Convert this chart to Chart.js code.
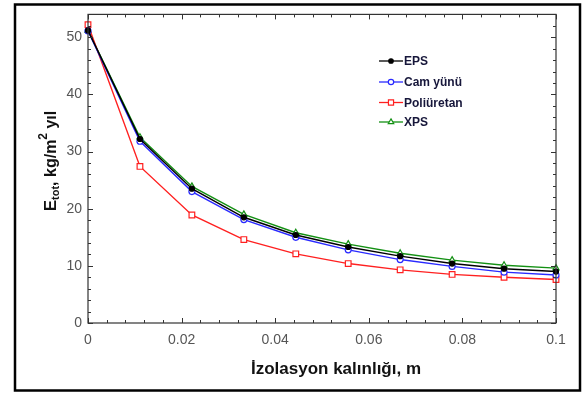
<!DOCTYPE html>
<html>
<head>
<meta charset="utf-8">
<script src="https://cdn.jsdelivr.net/npm/chart.js@4"></script>
<style>
  body { margin: 0; background: #fff; }
  #wrap { width: 584px; height: 394px; }
</style>
</head>
<body>
<div id="wrap"><canvas id="etotChart" width="584" height="394"></canvas></div>
<script>
// insulation thickness (m) and total energy per series
const thickness = [0, 0.0111, 0.0222, 0.0333, 0.0444, 0.0556, 0.0667, 0.0778, 0.0889, 0.1];
const eps  = [51.2, 32.2, 23.5, 18.5, 15.4, 13.3, 11.7, 10.4, 9.5, 9.0];
const cam  = [51.1, 31.8, 23.0, 18.1, 15.0, 12.8, 11.1, 9.9, 8.9, 8.4];
const poli = [52.2, 27.4, 18.9, 14.6, 12.1, 10.4, 9.3, 8.5, 8.0, 7.6];
const xps  = [51.2, 32.5, 23.9, 19.0, 15.8, 13.8, 12.2, 11.0, 10.1, 9.6];

const seriesNames = ['EPS', 'Cam yünü', 'Poliüretan', 'XPS'];
const xTicks = [0, 0.02, 0.04, 0.06, 0.08, 0.1];
const xTickLabels = ['0', '0.02', '0.04', '0.06', '0.08', '0.1'];
const yTicks = [0, 10, 20, 30, 40, 50];
const xMinorStep = 0.004;
const yMinorStep = 2;

const toPts = (ys) => ys.map((v, i) => ({x: thickness[i], y: v}));

const styles = [
    {color: '#000000', point: 'circle', r: 2.5, fill: '#000000'},
    {color: '#2a2aff', point: 'circle', r: 3, fill: '#ffffff'},
    {color: '#ff2020', point: 'rect', r: 4, fill: '#ffffff'},
    {color: '#139013', point: 'triangle', r: 3.5, fill: '#ffffff'}
];

const makeSet = (label, ys, s) => ({
    label: label,
    data: toPts(ys),
    borderColor: s.color,
    backgroundColor: s.fill,
    borderWidth: 1.4,
    pointStyle: s.point,
    pointRadius: s.r,
    pointBorderWidth: 1.2,
    pointBorderColor: s.color,
    pointBackgroundColor: s.fill,
    tension: 0,
    clip: false
});

const fam = ' "Liberation Sans", Arial, sans-serif';

// axes box, inward ticks, legend, titles and outer frame
const decor = {
    id: 'decor',
    afterDraw(chart) {
        const ctx = chart.ctx;
        const a = chart.chartArea;
        const xs = chart.scales.x, ys = chart.scales.y;
        ctx.save();
        ctx.strokeStyle = '#333';
        ctx.lineWidth = 1.2;
        ctx.strokeRect(a.left, a.top, a.right - a.left, a.bottom - a.top);

        ctx.lineWidth = 1;
        ctx.beginPath();
        for (let v = 0; v <= 0.1 + 1e-9; v += xMinorStep) {
            const px = Math.round(xs.getPixelForValue(v)) + 0.5;
            const major = Math.abs(v / 0.02 - Math.round(v / 0.02)) < 1e-6;
            const len = major ? 5 : 3;
            ctx.moveTo(px, a.bottom); ctx.lineTo(px, a.bottom - len);
            ctx.moveTo(px, a.top); ctx.lineTo(px, a.top + len);
        }
        for (let v = 0; v <= 54 + 1e-9; v += yMinorStep) {
            const py = Math.round(ys.getPixelForValue(v)) + 0.5;
            const len = (v % 10 === 0) ? 5 : 3;
            ctx.moveTo(a.left, py); ctx.lineTo(a.left + len, py);
            ctx.moveTo(a.right, py); ctx.lineTo(a.right - len, py);
        }
        ctx.stroke();

        // legend
        const legY = [61, 82, 102.5, 122];
        chart.data.datasets.forEach((ds, i) => {
            const s = styles[i];
            const y = legY[i];
            ctx.strokeStyle = s.color;
            ctx.lineWidth = 1.3;
            ctx.beginPath();
            ctx.moveTo(379, y); ctx.lineTo(403, y);
            ctx.stroke();
            ctx.fillStyle = s.fill;
            ctx.strokeStyle = s.color;
            ctx.lineWidth = 1.2;
            Chart.helpers.drawPoint(ctx, {
                pointStyle: s.point, radius: s.r * 0.9, borderWidth: 1.2
            }, 391, y);
            ctx.fillStyle = '#16163a';
            ctx.font = 'bold 12px' + fam;
            ctx.textBaseline = 'middle';
            ctx.textAlign = 'left';
            ctx.fillText(ds.label, 404, y + 1);
        });

        // x title
        ctx.fillStyle = '#111';
        ctx.font = 'bold 17px' + fam;
        ctx.textAlign = 'center';
        ctx.textBaseline = 'middle';
        ctx.fillText('İzolasyon kalınlığı, m', 336, 369);

        // y title with sub/superscript
        const parts = [
            {t: 'E', f: 'bold 17px', dy: 0},
            {t: 'tot', f: 'bold 11px', dy: 3},
            {t: ', kg/m', f: 'bold 16px', dy: 0},
            {t: '2', f: 'bold 12px', dy: -9},
            {t: ' yıl', f: 'bold 16px', dy: 0}
        ];
        let total = 0;
        parts.forEach(p => { ctx.font = p.f + fam; p.w = ctx.measureText(p.t).width; total += p.w; });
        ctx.translate(56, 161);
        ctx.rotate(-Math.PI / 2);
        ctx.textAlign = 'left';
        ctx.textBaseline = 'alphabetic';
        let x = -total / 2;
        parts.forEach(p => {
            ctx.font = p.f + fam;
            ctx.fillText(p.t, x, p.dy);
            x += p.w;
        });
        ctx.setTransform(1, 0, 0, 1, 0, 0);

        // outer frame
        ctx.strokeStyle = '#000';
        ctx.lineWidth = 2.5;
        ctx.strokeRect(15, 4.5, 565, 386);
        ctx.restore();
    }
};

const chart = new Chart(document.getElementById('etotChart'), {
    type: 'line',
    data: {
        datasets: [
            makeSet(seriesNames[0], eps, styles[0]),
            makeSet(seriesNames[1], cam, styles[1]),
            makeSet(seriesNames[2], poli, styles[2]),
            makeSet(seriesNames[3], xps, styles[3])
        ]
    },
    options: {
        responsive: false,
        animation: false,
        devicePixelRatio: 1,
        layout: {padding: {left: 0, top: 13, right: 28, bottom: 0}},
        plugins: {legend: {display: false}, tooltip: {enabled: false}},
        scales: {
            x: {
                type: 'linear', min: 0, max: 0.1,
                grid: {display: false, drawTicks: false},
                border: {display: false},
                afterBuildTicks: s => { s.ticks = xTicks.map(v => ({value: v})); },
                afterFit: s => { s.height = 71; },
                ticks: {
                    padding: 9, color: '#555', maxRotation: 0,
                    font: {family: '"Liberation Sans", Arial, sans-serif', size: 14},
                    callback: (v) => xTickLabels[xTicks.findIndex(t => Math.abs(t - v) < 1e-9)]
                }
            },
            y: {
                min: 0, max: 54,
                grid: {display: false, drawTicks: false},
                border: {display: false},
                afterBuildTicks: s => { s.ticks = yTicks.map(v => ({value: v})); },
                afterFit: s => { s.width = 88; },
                ticks: {
                    padding: 6, color: '#555',
                    font: {family: '"Liberation Sans", Arial, sans-serif', size: 14}
                }
            }
        }
    },
    plugins: [decor]
});
</script>
</body>
</html>
